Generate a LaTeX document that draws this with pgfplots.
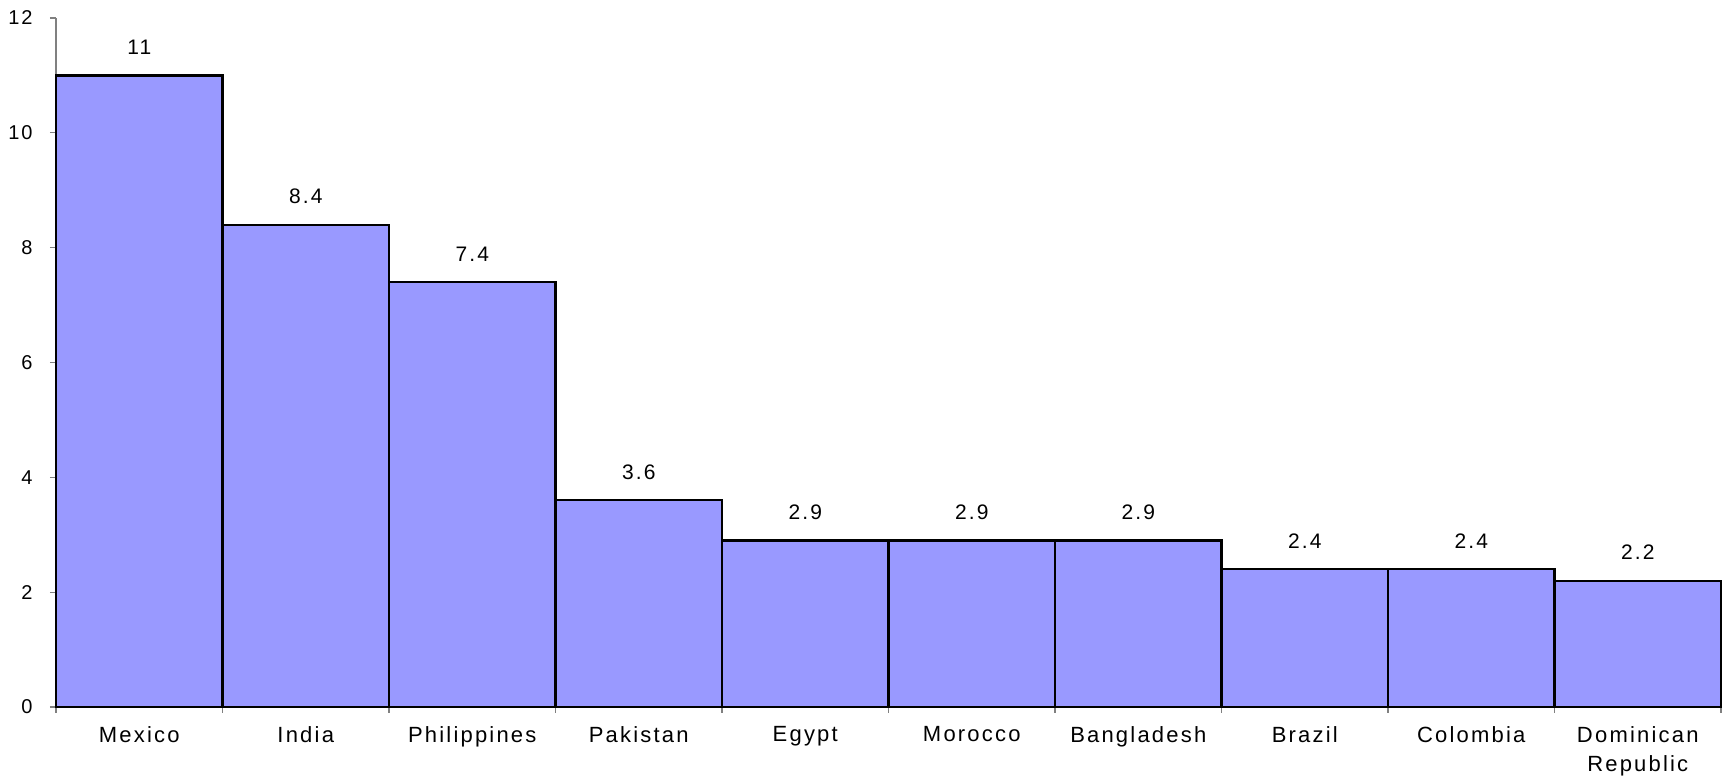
\documentclass[border=0pt]{standalone}
\usepackage{fontspec}
\setmainfont{Liberation Sans}[LetterSpace=10]
\usepackage{pgfplots}
\pgfplotsset{compat=1.18}

\definecolor{barfill}{HTML}{9999FF}
\definecolor{axisgray}{HTML}{808080}

\begin{document}
\begin{tikzpicture}
% fixed page frame around the plot area
\path[use as bounding box] (-28pt,-34.5pt) rectangle (834.5pt,353.5pt);
\begin{axis}[
  at={(0,0)}, anchor=south west,
  scale only axis,
  width=832.5pt, height=344.5pt,
  xmin=0, xmax=10,
  ymin=0, ymax=12,
  axis x line=bottom,
  axis y line=left,
  axis line style={-, axisgray, line width=0.6pt},
  tick align=outside,
  xtick={0.5,1.5,...,9.5},
  xticklabels={Mexico,India,Philippines,Pakistan,Egypt,Morocco,Bangladesh,Brazil,Colombia,{Dominican\\Republic}},
  major x tick style={draw=none},
  minor xtick={0,1,...,10},
  minor x tick style={axisgray, line width=0.6pt},
  minor tick length=3pt,
  xticklabel style={anchor=north, inner sep=0pt, yshift=-6.5pt, align=center, font=\fontsize{11}{14.5}\selectfont},
  ytick={0,2,...,12},
  major y tick style={axisgray, line width=0.6pt},
  major tick length=3pt,
  yticklabel style={anchor=east, inner sep=0pt, xshift=-8.5pt, font=\fontsize{10}{12}\selectfont},
  /pgf/number format/assume math mode=true,
  ybar,
  bar width=1,
  nodes near coords,
  every node near coord/.append style={anchor=base, inner sep=0pt, yshift=10.5pt, font=\fontsize{10.5}{12}\selectfont, black},
  clip=false,
]
\addplot[fill=barfill, draw=black, line width=1.1pt] coordinates {
  (0.5,11) (1.5,8.4) (2.5,7.4) (3.5,3.6) (4.5,2.9)
  (5.5,2.9) (6.5,2.9) (7.5,2.4) (8.5,2.4) (9.5,2.2)
};
\end{axis}
\end{tikzpicture}
\end{document}
